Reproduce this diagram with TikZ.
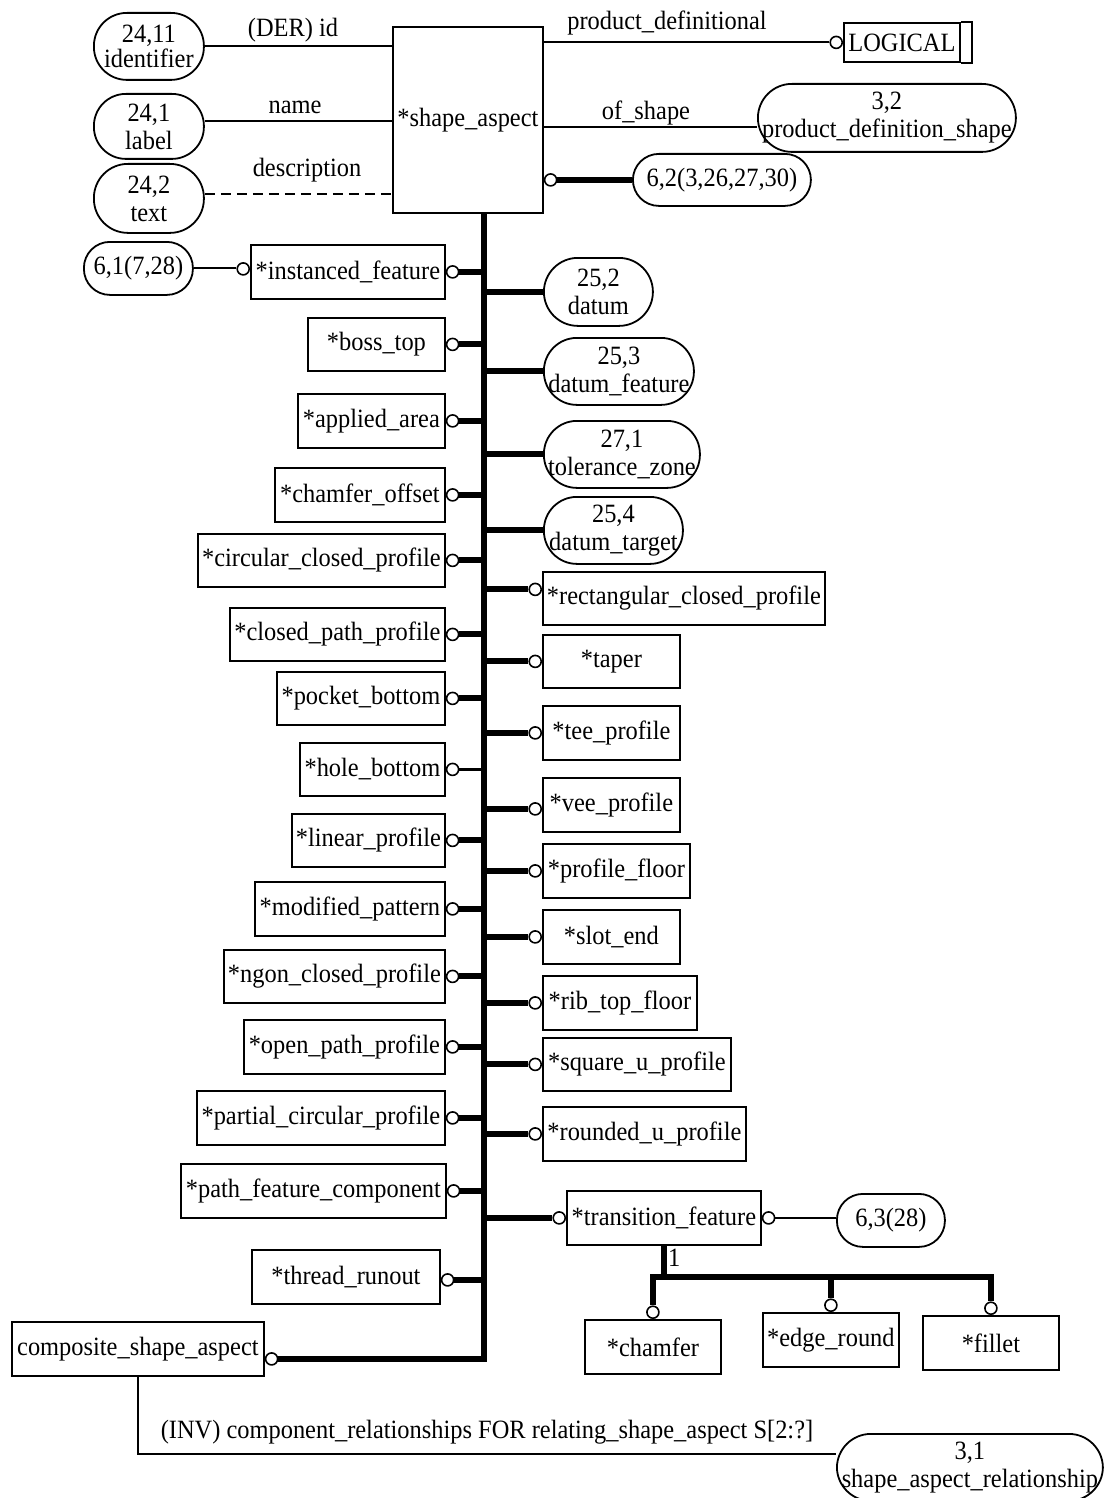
\documentclass[tikz,border=0pt]{standalone}
\usepackage{fontspec}
\setmainfont{Liberation Serif}[FakeStretch=0.925]
\begin{document}
\begin{tikzpicture}[x=1pt,y=-1pt,
  every node/.style={font=\fontsize{26.4}{28}\selectfont},
  ent/.style={draw, line width=1.8pt, inner sep=0pt, anchor=north west},
  ovl/.style={draw, line width=1.8pt, inner sep=0pt, anchor=north west, align=center},
  dot/.style={circle, draw, line width=1.6pt, fill=white, inner sep=0pt, minimum size=12pt},
  rel/.style={line width=2pt},
  sub/.style={line width=6pt},
  lbl/.style={inner sep=0pt}]
\useasboundingbox (0,0) rectangle (1107,1498);

% trunk position and tree level
\coordinate (tx) at (484,0);
\coordinate (hy) at (0,1277);

% central entity and its attributes
\node[ent, minimum width=150, minimum height=186] (sa) at (392,26) {*shape\_aspect};
\node[ovl, rounded corners=33pt, minimum width=110, minimum height=67] (idf) at (93,12) {24,11\\[-3pt]identifier};
\node[ovl, rounded corners=32pt, minimum width=110, minimum height=65] (lab) at (93,93) {24,1\\label};
\node[ovl, rounded corners=34pt, minimum width=110, minimum height=69] (txt) at (93,163) {24,2\\text};
\draw[rel] (idf.east) -- (idf.east -| sa.west);
\draw[rel] ([yshift=5.5pt]lab.east) -- ([yshift=5.5pt]lab.east -| sa.west);
\draw[rel, dash pattern=on 10pt off 6pt] ([yshift=4.5pt]txt.east) -- ([yshift=4.5pt]txt.east -| sa.west);
\node[lbl] (lid) at (293,30) {(DER) id};
\node[lbl] (lnm) at (295,107) {name};
\node[lbl] (lds) at (307,170) {description};

\node[ent, minimum width=116, minimum height=39] (lg) at (843,22) {LOGICAL};
\draw[line width=1.8pt] (lg.north east) -- ++(11,0) |- (lg.south east);
\node[dot, anchor=east] (dlg) at (lg.west) {};
\draw[rel] (dlg.west) -- (dlg.west -| sa.east);
\node[lbl] (lpd) at (667,23) {product\_definitional};

\node[ovl, rounded corners=34pt, minimum width=258, minimum height=68] (pds) at (757,83) {3,2\\product\_definition\_shape};
\draw[rel] ([yshift=-9pt]pds.west) -- ([yshift=-9pt]pds.west -| sa.east);
\node[lbl] (los) at (646,113) {of\_shape};

\node[ovl, rounded corners=26pt, minimum width=178, minimum height=52] (p62) at (632,153) {6,2(3,26,27,30)};
\node[dot, anchor=west] (dp62) at (sa.east |- p62.west) {};
\draw[sub] (dp62.east) -- (p62.west);

% subtypes on the left of the trunk
\node[ent, minimum width=252, minimum height=54] (csa) at (11,1321) {composite\_shape\_aspect};
\node[dot, anchor=west] (dcsa) at ([yshift=-10pt]csa.east) {};
\draw[sub] (sa.south -| tx) -- (dcsa.east -| tx) -- (dcsa.east);

\node[ent, minimum width=194, minimum height=54] (inst) at (250,244) {*instanced\_feature};
\node[ent, minimum width=137, minimum height=53] (boss) at (307,317) {*boss\_top};
\node[ent, minimum width=147, minimum height=54] (appl) at (297,393) {*applied\_area};
\node[ent, minimum width=170, minimum height=54] (chof) at (274,467) {*chamfer\_offset};
\node[ent, minimum width=247, minimum height=53] (circ) at (197,533) {*circular\_closed\_profile};
\node[ent, minimum width=215, minimum height=53] (clpa) at (229,607) {*closed\_path\_profile};
\node[ent, minimum width=168, minimum height=53] (pock) at (276,671) {*pocket\_bottom};
\node[ent, minimum width=145, minimum height=53] (hole) at (299,742) {*hole\_bottom};
\node[ent, minimum width=153, minimum height=53] (linp) at (291,813) {*linear\_profile};
\node[ent, minimum width=190, minimum height=54] (modp) at (254,881) {*modified\_pattern};
\node[ent, minimum width=221, minimum height=53] (ngon) at (223,949) {*ngon\_closed\_profile};
\node[ent, minimum width=201, minimum height=54] (open) at (243,1019) {*open\_path\_profile};
\node[ent, minimum width=248, minimum height=54] (part) at (196,1090) {*partial\_circular\_profile};
\node[ent, minimum width=265, minimum height=54] (pfc) at (180,1163) {*path\_feature\_component};
\node[ent, minimum width=188, minimum height=54] (thru) at (251,1249) {*thread\_runout};

\foreach \e in {inst,boss,appl,chof,circ,clpa,pock,linp,modp,ngon,open,part,pfc}{
  \node[dot, anchor=west] (d\e) at (\e.east) {};
  \draw[sub] (d\e.east) -- (d\e.east -| tx);
}
\node[dot, anchor=west] (dhole) at (hole.east) {};
\draw[line width=3.5pt] (dhole.east) -- (dhole.east -| tx);
\node[dot, anchor=west] (dthru) at ([yshift=-3pt]thru.east) {};
\draw[sub] (dthru.east) -- (dthru.east -| tx);

\node[ovl, rounded corners=26pt, minimum width=109, minimum height=53] (o61) at (83,241) {6,1(7,28)};
\node[dot, anchor=east] (dinl) at ([yshift=3pt]inst.west) {};
\draw[rel] (o61.east) -- (o61.east -| dinl.west);

% subtypes on the right of the trunk
\node[ovl, rounded corners=34pt, minimum width=109, minimum height=68] (d252) at (543,257) {25,2\\datum};
\node[ovl, rounded corners=33pt, minimum width=150, minimum height=67] (d253) at (543,337) {25,3\\datum\_feature};
\node[ovl, rounded corners=33pt, minimum width=156, minimum height=67] (t271) at (543,420) {27,1\\tolerance\_zone};
\node[ovl, rounded corners=33pt, minimum width=139, minimum height=67] (d254) at (543,496) {25,4\\datum\_target};
\foreach \o in {d252,d253,t271,d254}{
  \draw[sub] (\o.west) -- (\o.west -| tx);
}

\node[ent, minimum width=282, minimum height=53] (rcp) at (542,571) {*rectangular\_closed\_profile};
\node[ent, minimum width=137, minimum height=53] (tap) at (542,634) {*taper};
\node[ent, minimum width=137, minimum height=54] (tee) at (542,705) {*tee\_profile};
\node[ent, minimum width=137, minimum height=54] (vee) at (542,777) {*vee\_profile};
\node[ent, minimum width=147, minimum height=54] (pflr) at (542,843) {*profile\_floor};
\node[ent, minimum width=137, minimum height=54] (slot) at (542,909) {*slot\_end};
\node[ent, minimum width=154, minimum height=54] (rib) at (542,975) {*rib\_top\_floor};
\node[ent, minimum width=188, minimum height=53] (squ) at (542,1037) {*square\_u\_profile};
\node[ent, minimum width=203, minimum height=54] (rnd) at (542,1106) {*rounded\_u\_profile};
\node[ent, minimum width=194, minimum height=54] (trf) at (566,1190) {*transition\_feature};

\foreach \e in {tap,tee,pflr,slot,rib,squ,rnd,trf}{
  \node[dot, anchor=east] (d\e) at (\e.west) {};
  \draw[sub] (d\e.west) -- (d\e.west -| tx);
}
\node[dot, anchor=east] (drcp) at ([yshift=9pt]rcp.west) {};
\draw[sub] (drcp.west) -- (drcp.west -| tx);
\node[dot, anchor=east] (dvee) at ([yshift=-4pt]vee.west) {};
\draw[sub] (dvee.west) -- (dvee.west -| tx);

% transition_feature and its subtypes
\node[ovl, rounded corners=26pt, minimum width=108, minimum height=53] (o63) at (836,1193) {6,3(28)};
\node[dot, anchor=west] (dtrf2) at (trf.east) {};
\draw[rel] (dtrf2.east) -- (dtrf2.east -| o63.west);

\node[ent, minimum width=136, minimum height=54] (cham) at (584,1319) {*chamfer};
\node[ent, minimum width=136, minimum height=54] (edge) at (762,1312) {*edge\_round};
\node[ent, minimum width=136, minimum height=54] (fil) at (922,1315) {*fillet};
\node[dot, anchor=south] (dch) at (cham.north) {};
\node[dot, anchor=south] (ded) at (edge.north) {};
\node[dot, anchor=south] (dfi) at (fil.north) {};
\draw[sub] (trf.south) -- (trf.south |- hy);
\draw[sub] (dch.north) -- (dch.north |- hy) -- (dfi.north |- hy) -- (dfi.north);
\draw[sub] (ded.north) -- (ded.north |- hy);
\node[lbl, anchor=west] (one) at (668,1258) {1};

% inverse attribute of composite_shape_aspect
\node[ovl, rounded corners=34pt, minimum width=266, minimum height=67] (o31) at (836,1433) {3,1\\shape\_aspect\_relationship};
\draw[rel] (csa.south) |- ([yshift=13.5pt]o31.west);
\node[lbl] (linv) at (487,1432) {(INV) component\_relationships FOR relating\_shape\_aspect S[2:?]};
\end{tikzpicture}
\end{document}
